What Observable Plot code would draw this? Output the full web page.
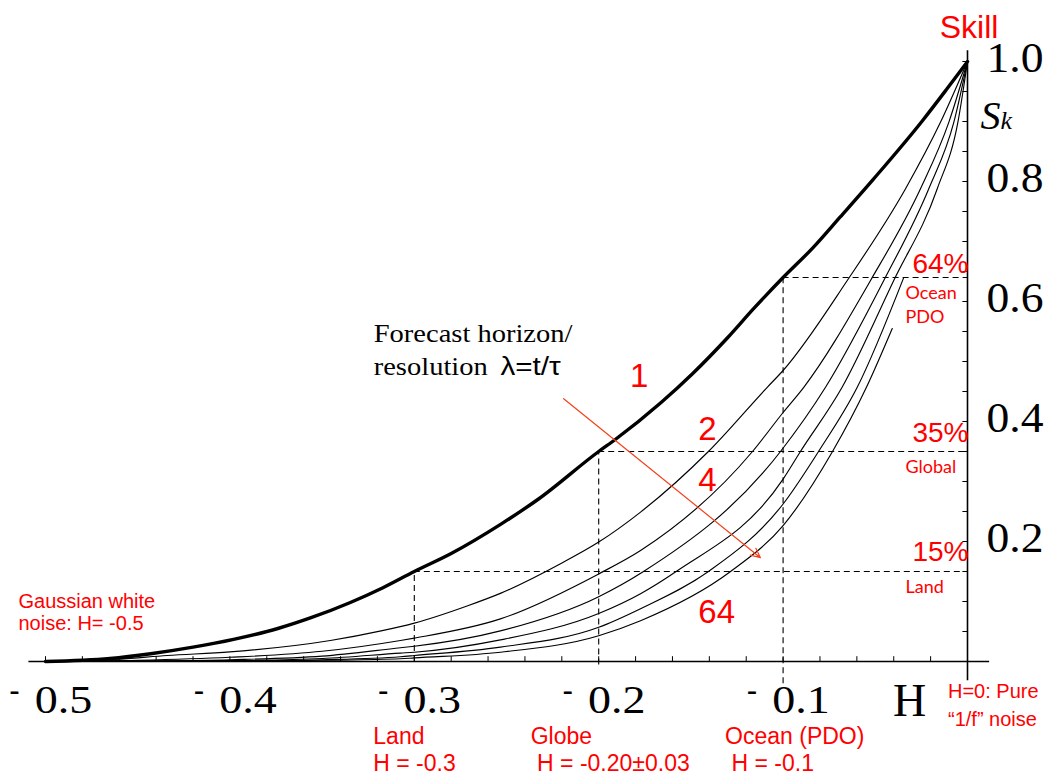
<!DOCTYPE html>
<html>
<head>
<meta charset="utf-8">
<script src="https://cdn.jsdelivr.net/npm/d3@7"></script>
<script src="https://cdn.jsdelivr.net/npm/@observablehq/plot@0.6"></script>
<style>
  html, body { margin: 0; padding: 0; background: #fff; }
  #chart svg { display: block; }
</style>
</head>
<body>
<div id="chart"></div>
<script>
// Forecast skill S_k against the fluctuation exponent H for forecast horizons λ = 1 … 64

const lambdas = [1, 2, 4, 8, 16, 32, 64];

const hurst_1 = [-0.5, -0.465, -0.443, -0.42, -0.398, -0.374, -0.356, -0.335, -0.317, -0.3, -0.28, -0.253, -0.233, -0.2, -0.191, -0.166, -0.149, -0.13, -0.116, -0.1, -0.084, -0.069, -0.051, -0.024, -0.011, 0];
const skill_1 = [0, 0.005, 0.013, 0.024, 0.037, 0.055, 0.073, 0.098, 0.123, 0.15, 0.18, 0.229, 0.27, 0.35, 0.37, 0.432, 0.48, 0.54, 0.588, 0.64, 0.689, 0.741, 0.804, 0.903, 0.955, 1];

const hurst_2 = [-0.5, -0.46, -0.434, -0.4, -0.3455, -0.318, -0.3, -0.271, -0.253, -0.2207, -0.2, -0.1773, -0.1405, -0.1086, -0.1, -0.0652, -0.0336, -0.0146, 0];
const skill_2 = [0, 0.004, 0.01, 0.016, 0.035, 0.051, 0.064, 0.093, 0.114, 0.163, 0.199, 0.249, 0.35, 0.457, 0.485, 0.635, 0.788, 0.899, 1];

const hurst_4 = [-0.5, -0.45, -0.4, -0.35, -0.3075, -0.3, -0.2533, -0.2, -0.1773, -0.1166, -0.1, -0.0888, -0.0526, -0.0255, -0.0101, 0];
const skill_4 = [0, 0.002, 0.007, 0.017, 0.035, 0.039, 0.071, 0.146, 0.185, 0.35, 0.415, 0.457, 0.635, 0.788, 0.899, 1];

const hurst_8 = [-0.5, -0.45, -0.4, -0.35, -0.3075, -0.3, -0.2533, -0.2, -0.1757, -0.1014, -0.077, -0.0454, -0.021, -0.0074, 0];
const skill_8 = [0, 0.001, 0.003, 0.009, 0.023, 0.0255, 0.051, 0.108, 0.15, 0.35, 0.457, 0.635, 0.788, 0.899, 1];

const hurst_16 = [-0.5, -0.45, -0.4, -0.35, -0.3075, -0.3, -0.2533, -0.2, -0.1773, -0.158, -0.1, -0.0906, -0.068, -0.04, -0.0164, -0.0052, 0];
const skill_16 = [0, 0.0005, 0.0015, 0.005, 0.014, 0.0155, 0.036, 0.08, 0.113, 0.15, 0.304, 0.35, 0.457, 0.635, 0.788, 0.899, 1];

const hurst_32 = [-0.5, -0.45, -0.4, -0.35, -0.3075, -0.3, -0.2533, -0.2, -0.1773, -0.1405, -0.1, -0.0808, -0.0598, -0.0347];
const skill_32 = [0, 0.0003, 0.001, 0.003, 0.008, 0.01, 0.024, 0.057, 0.088, 0.15, 0.2625, 0.35, 0.457, 0.639];

const hurst_64 = [-0.5, -0.45, -0.4, -0.35, -0.3075, -0.3, -0.2533, -0.2, -0.1773, -0.1285, -0.1, -0.0732, -0.0548, -0.0408];
const skill_64 = [0, 0.0002, 0.0005, 0.002, 0.0045, 0.006, 0.0155, 0.043, 0.068, 0.15, 0.2265, 0.35, 0.457, 0.555];

// Observed regional exponents and the skill they give at λ = 1
const regionH = [-0.3, -0.2, -0.1];
const regionSkill = [0.15, 0.35, 0.64];
const regionPct = ["15%", "35%", "64%"];
const regionFoot = [0, -0.006, -0.037];

// Axis ticks and labels
const xTickLabels = [-0.5, -0.4, -0.3, -0.2, -0.1];
const yTickLabels = [0.2, 0.4, 0.6, 0.8, 1.0];
const xMinorTicks = d3.range(0, 26).map(i => -0.5 + i * 0.02);
const yMinorTicks = d3.range(1, 21).map(i => i * 0.05);
const xAxisSpan = [-0.509, 0.012];
const yAxisSpan = [-0.032, 1.018];

// Curve labels (λ) and the "increasing λ" arrow, in data units
const curveLabelText = ["1", "2", "4", "64"];
const curveLabelH = [-0.178, -0.141, -0.141, -0.136];
const curveLabelS = [0.457, 0.37, 0.285, 0.065];
const arrowFrom = [-0.219, 0.438];
const arrowTo = [-0.1123, 0.173];
const horizonNoteAt = [-0.322, 0.532];
const horizonNote2At = [-0.322, 0.477];
const horizonFormulaAt = [-0.2533, 0.477];

const seriesH = [hurst_1, hurst_2, hurst_4, hurst_8, hurst_16, hurst_32, hurst_64];
const seriesS = [skill_1, skill_2, skill_4, skill_8, skill_16, skill_32, skill_64];
const rows = lambdas.flatMap((lambda, k) =>
  seriesH[k].map((h, i) => ({lambda, H: h, S: seriesS[k][i]}))
);
const guides = regionH.map((h, i) => ({H: h, S: regionSkill[i], foot: regionFoot[i], pct: regionPct[i]}));
const curveLabels = curveLabelText.map((t, i) => ({t, H: curveLabelH[i], S: curveLabelS[i]}));

const red = "#ff0000";
const serif = "Liberation Serif, Times New Roman, serif";
const sans = "Liberation Sans, Arial, sans-serif";
const humanist = "Lato, Open Sans, sans-serif";
const dash = {stroke: "#000", strokeWidth: 1.1, strokeDasharray: "6,4"};

const chart = Plot.plot({
  width: 1055,
  height: 776,
  marginLeft: 45,
  marginRight: 88,
  marginTop: 61,
  marginBottom: 115,
  x: {domain: [-0.5, 0], axis: null},
  y: {domain: [0, 1], axis: null},
  style: {background: "#fff", overflow: "visible"},
  marks: [
    // dashed reference levels
    Plot.ruleY(guides, {y: "S", x1: "H", x2: 0, ...dash}),
    Plot.ruleX(guides, {x: "H", y1: "foot", y2: "S", ...dash}),

    // axes
    Plot.ruleY([0], {x1: xAxisSpan[0], x2: xAxisSpan[1], stroke: "#000", strokeWidth: 1.6}),
    Plot.ruleX([0], {y1: yAxisSpan[0], y2: yAxisSpan[1], stroke: "#000", strokeWidth: 1.6}),
    Plot.ruleX(xMinorTicks, {x: d => d, y1: 0, y2: 0.008, stroke: "#000", strokeWidth: 1}),
    Plot.ruleY(yMinorTicks, {y: d => d, x1: -0.0025, x2: 0, stroke: "#000", strokeWidth: 1}),

    // skill curves
    Plot.line(rows.filter(d => d.lambda > 1), {x: "H", y: "S", z: "lambda", stroke: "#000", strokeWidth: 1.15, curve: "monotone-x"}),
    Plot.line(rows.filter(d => d.lambda === 1), {x: "H", y: "S", stroke: "#000", strokeWidth: 3.4, curve: "monotone-x"}),

    // x tick labels: raised minus and value
    Plot.text(xTickLabels, {x: d => d, y: 0, text: () => "-", dx: -31, dy: 38, textAnchor: "middle", lineAnchor: "bottom",
      fontFamily: serif, fontSize: 30, fontWeight: "bold", fill: "#000"}),
    Plot.text(xTickLabels, {x: d => d, y: 0, text: d => d3.format(".1f")(-d), dx: 18, dy: 51.5, textAnchor: "middle", lineAnchor: "bottom",
      fontFamily: serif, fontSize: 40, fill: "#000", ariaDescription: "wide-x"}),
    // y tick labels
    Plot.text(yTickLabels, {x: 0, y: d => d, text: d => d3.format(".1f")(d), dx: 19, dy: 10.5, textAnchor: "start", lineAnchor: "bottom",
      fontFamily: serif, fontSize: 43, fill: "#000", ariaDescription: "wide-y"}),

    // axis titles
    Plot.text(["H"], {x: 0, y: 0, text: d => d, dx: -58, dy: 54, textAnchor: "middle", lineAnchor: "bottom",
      fontFamily: serif, fontSize: 46, fill: "#000"}),
    Plot.text(["S"], {x: 0, y: 1, text: d => d, dx: 13, dy: 67, textAnchor: "start", lineAnchor: "bottom",
      fontFamily: serif, fontStyle: "italic", fontSize: 40, fill: "#000"}),
    Plot.text(["k"], {x: 0, y: 1, text: d => d, dx: 33, dy: 67, textAnchor: "start", lineAnchor: "bottom",
      fontFamily: serif, fontStyle: "italic", fontSize: 26, fill: "#000"}),
    Plot.text(["Skill"], {x: 0, y: 1, text: d => d, dx: 1.5, dy: -24, textAnchor: "middle", lineAnchor: "bottom",
      fontFamily: sans, fontSize: 32, fill: red}),

    // regional skill percentages and names
    Plot.text([guides[2]], {x: 0, y: "S", text: "pct", dx: 1, dy: -5, textAnchor: "end", lineAnchor: "bottom", fontFamily: sans, fontSize: 28, fill: red}),
    Plot.text([guides[1]], {x: 0, y: "S", text: "pct", dx: 1, dy: -10, textAnchor: "end", lineAnchor: "bottom", fontFamily: sans, fontSize: 28, fill: red}),
    Plot.text([guides[0]], {x: 0, y: "S", text: "pct", dx: 1, dy: -11, textAnchor: "end", lineAnchor: "bottom", fontFamily: sans, fontSize: 28, fill: red}),
    Plot.text(["Ocean\nPDO"], {x: 0, y: regionSkill[2], text: d => d, dx: -62, dy: 45, textAnchor: "start", lineAnchor: "bottom",
      lineHeight: 1.33, fontFamily: humanist, fontSize: 18, fill: red}),
    Plot.text(["Global"], {x: 0, y: regionSkill[1], text: d => d, dx: -62, dy: 21, textAnchor: "start", lineAnchor: "bottom",
      fontFamily: humanist, fontSize: 18, fill: red}),
    Plot.text(["Land"], {x: 0, y: regionSkill[0], text: d => d, dx: -62, dy: 21, textAnchor: "start", lineAnchor: "bottom",
      fontFamily: humanist, fontSize: 18, fill: red}),

    // λ labels on the curves
    Plot.text(curveLabels, {x: "H", y: "S", text: "t", textAnchor: "middle", lineAnchor: "bottom", fontFamily: sans, fontSize: 33, fill: red}),

    // forecast horizon note and arrow
    Plot.text(["Forecast horizon/"], {x: horizonNoteAt[0], y: horizonNoteAt[1], text: d => d, textAnchor: "start", lineAnchor: "bottom",
      fontFamily: serif, fontSize: 25, fill: "#000", ariaDescription: "wide-note"}),
    Plot.text(["resolution"], {x: horizonNote2At[0], y: horizonNote2At[1], text: d => d, textAnchor: "start", lineAnchor: "bottom",
      fontFamily: serif, fontSize: 25, fill: "#000", ariaDescription: "wide-note"}),
    Plot.text(["λ=t/τ"], {x: horizonFormulaAt[0], y: horizonFormulaAt[1], text: d => d, textAnchor: "start", lineAnchor: "bottom",
      fontFamily: sans, fontSize: 26, fill: "#000", ariaDescription: "wide-note"}),
    Plot.arrow([{}], {x1: arrowFrom[0], y1: arrowFrom[1], x2: arrowTo[0], y2: arrowTo[1], stroke: "#f5401a", strokeWidth: 1.2,
      headLength: 13, headAngle: 50}),

    // end-member and regional notes
    Plot.text(["Gaussian white\nnoise: H= -0.5"], {x: -0.5, y: 0, text: d => d, dx: -27, dy: -32, textAnchor: "start", lineAnchor: "bottom",
      lineHeight: 1.1, fontFamily: sans, fontSize: 20, fill: red}),
    Plot.text(["H=0: Pure\n“1/f” noise"], {x: 0, y: 0, text: d => d, dx: -19.5, dy: 64, textAnchor: "start", lineAnchor: "bottom",
      lineHeight: 1.4, fontFamily: sans, fontSize: 20, fill: red}),
    Plot.text(["Land\nH = -0.3"], {x: regionH[0], y: 0, text: d => d, dx: -41, dy: 109, textAnchor: "start", lineAnchor: "bottom",
      lineHeight: 1.17, fontFamily: sans, fontSize: 23, fill: red}),
    Plot.text(["Globe\n\u00a0H = -0.20±0.03"], {x: regionH[1], y: 0, text: d => d, dx: -68, dy: 109, textAnchor: "start", lineAnchor: "bottom",
      lineHeight: 1.17, fontFamily: sans, fontSize: 23, fill: red}),
    Plot.text(["Ocean (PDO)\n\u00a0H = -0.1"], {x: regionH[2], y: 0, text: d => d, dx: -58, dy: 109, textAnchor: "start", lineAnchor: "bottom",
      lineHeight: 1.17, fontFamily: sans, fontSize: 23, fill: red})
  ]
});

document.getElementById("chart").append(chart);

// The serif lettering is set wide: stretch those labels horizontally
const widen = {"wide-x": 1.15, "wide-y": 1.06, "wide-note": 1.14};
for (const [key, factor] of Object.entries(widen)) {
  d3.select(chart).selectAll(`g[aria-description="${key}"] text`).each(function () {
    const w = this.getComputedTextLength();
    this.setAttribute("textLength", (w * factor).toFixed(1));
    this.setAttribute("lengthAdjust", "spacingAndGlyphs");
  });
}
</script>
</body>
</html>
